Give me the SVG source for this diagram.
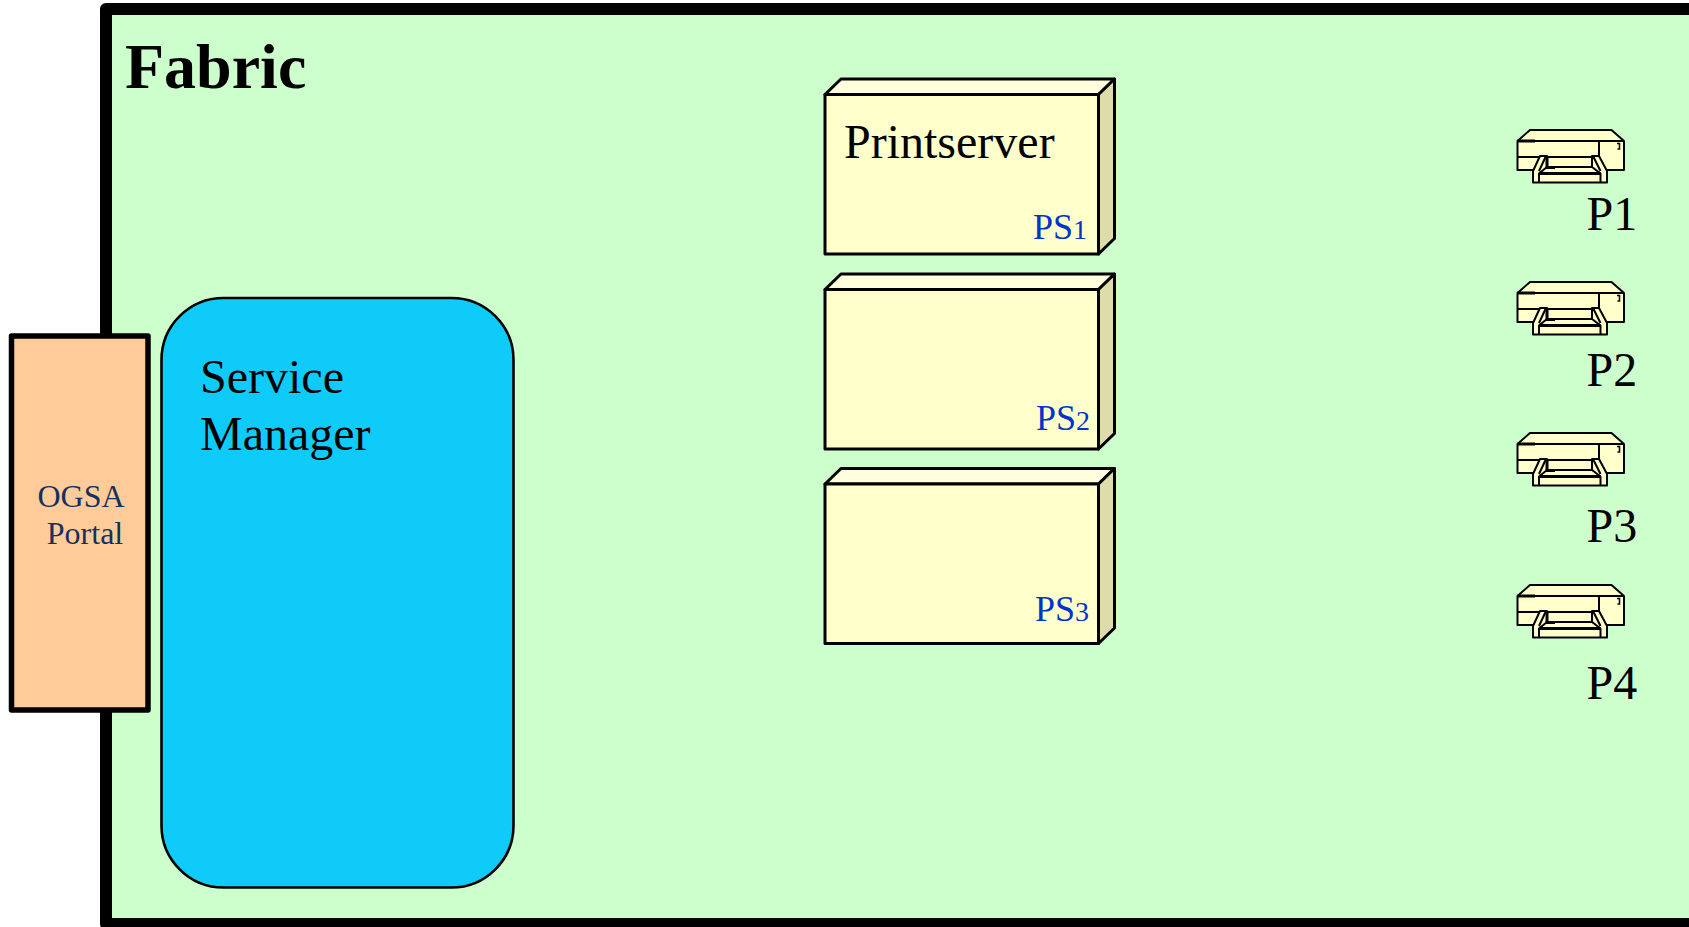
<svg xmlns="http://www.w3.org/2000/svg" xmlns:xlink="http://www.w3.org/1999/xlink" width="1689" height="927" viewBox="0 0 1689 927">
<style>
text{font-family:"Liberation Serif","Times New Roman",serif;fill:#000}
.big{font-size:48px}
.ps{font-size:36px;fill:#0033cc}
.sub{font-size:28px;fill:#0033cc}
.pt{font-size:32px;fill:#14305f;text-anchor:middle}
.e{stroke:#000;stroke-width:3;stroke-linejoin:round}
.p{stroke:#000;stroke-width:2;stroke-linejoin:round;fill:#ffffcc}
.l{stroke:#000;stroke-width:2;stroke-linejoin:round;fill:none}
.h{stroke:#000;stroke-width:3;fill:none}
</style>
<defs>
<g id="box">
<path class="e" fill="#ffffdd" d="M825 94.5L841 79H1114.5L1098.5 94.5Z"/>
<path class="e" fill="#dddcaa" d="M1098.5 94.5L1114.5 79V238.5L1098.5 254Z"/>
<rect class="e" fill="#ffffcc" x="825" y="94.5" width="273.5" height="159.5"/>
</g>
<g id="printer">
<path class="p" d="M1517.5 141L1530 130H1611.5L1624 141V170H1517.5Z"/>
<path class="l" d="M1517.5 141H1624M1599 141V170M1517.5 157H1599"/>
<path class="h" d="M1517.5 141H1535"/>
<path class="p" d="M1533 182.5V171L1540 156H1547V167H1592V156H1599L1607 171V182.5Z"/>
<path class="l" d="M1539 182.5V173.5H1600.5V182.5M1539 173.5L1547 167M1600.5 173.5L1592 167M1539 171L1546 156M1600.5 171L1593 156"/>
<path class="h" d="M1547 156V167.5H1555M1539 173.5H1600.5"/>
<path d="M1617 143.5h2.5v5.5h-2" fill="none" stroke="#000" stroke-width="1.5"/>
</g>
</defs>
<g id="fabric">
<rect x="106" y="9" width="1600" height="915" fill="#ccffcc" stroke="#000" stroke-width="12" stroke-linejoin="round"/>
<text x="125" y="88" font-size="64" font-weight="bold">Fabric</text>
</g>
<g id="portal">
<rect x="11.5" y="336" width="136.5" height="374" fill="#ffcc99" stroke="#000" stroke-width="5.5" stroke-linejoin="round"/>
<text class="pt" x="81" y="507">OGSA</text>
<text class="pt" x="85" y="544">Portal</text>
</g>
<g id="service-manager">
<rect x="161.5" y="298" width="352" height="589.5" rx="62" ry="62" fill="#0fcbfa" stroke="#000" stroke-width="2.6"/>
<text class="big" x="200" y="393">Service</text>
<text class="big" x="200" y="450">Manager</text>
</g>
<g id="ps1">
<use href="#box"/>
<text class="big" x="844" y="158">Printserver</text>
<text class="ps" x="1033" y="239">PS<tspan class="sub">1</tspan></text>
</g>
<g id="ps2">
<use href="#box" y="195"/>
<text class="ps" x="1036" y="430">PS<tspan class="sub">2</tspan></text>
</g>
<g id="ps3">
<use href="#box" y="389.5"/>
<text class="ps" x="1035" y="621">PS<tspan class="sub">3</tspan></text>
</g>
<g id="p1"><use href="#printer"/><text class="big" x="1586.5" y="230">P1</text></g>
<g id="p2"><use href="#printer" y="152"/><text class="big" x="1586.5" y="386">P2</text></g>
<g id="p3"><use href="#printer" y="303"/><text class="big" x="1586.5" y="542">P3</text></g>
<g id="p4"><use href="#printer" y="455"/><text class="big" x="1586.5" y="699">P4</text></g>
<g id="connectors"></g>
</svg>
